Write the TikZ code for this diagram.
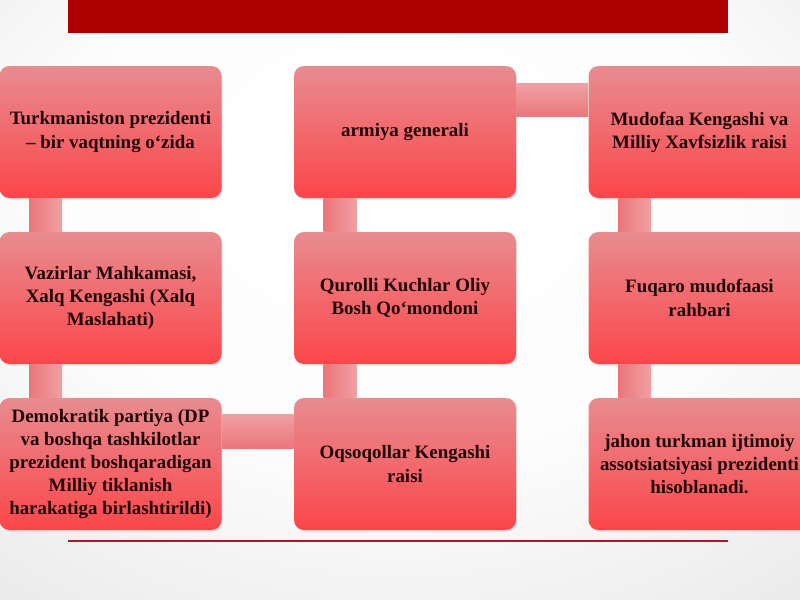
\documentclass[tikz,border=0pt]{standalone}
\usepackage{fontspec}
\setmainfont{Liberation Serif}
\usepackage{tikz}
\usetikzlibrary{shadows,positioning}
\definecolor{barred}{RGB}{172,0,0}
\definecolor{linered}{RGB}{178,20,42}
\definecolor{boxtop}{RGB}{232,140,144}
\definecolor{boxbot}{RGB}{251,70,74}
\definecolor{linklight}{RGB}{240,160,164}
\definecolor{linkdark}{RGB}{234,118,123}
\definecolor{ink}{RGB}{32,4,4}
\pgfdeclareradialshading{slidebg}{\pgfpoint{0bp}{12bp}}{color(0bp)=(white); color(22bp)=(white!98!gray); color(72bp)=(gray!42)}
\tikzstyle{box} = [rectangle,rounded corners=7.5pt,minimum width=166.5pt,minimum height=99pt,inner sep=2pt,top color=boxtop,bottom color=boxbot,align=center,text=ink,font=\bfseries\fontsize{14.2}{17.4}\selectfont,drop shadow={shadow xshift=0.8pt,shadow yshift=-1.2pt,opacity=0.2}]
\tikzstyle{vlink} = [left color=linkdark,right color=linklight]
\tikzstyle{hlink} = [top color=linklight,bottom color=linkdark]

\begin{document}
\begin{tikzpicture}[x=0.75pt,y=-0.75pt]
    \useasboundingbox (0,0) rectangle (800,600);
    \shade[shading=slidebg] (0,0) rectangle (800,600);
    \fill [barred] (68,0) rectangle (728,33);
    \draw [linered,line width=1.6pt] (68,541) -- (728,541);

    \node [box] (pres) at (110.5,132) {Turkmaniston prezidenti\\ – bir vaqtning o‘zida};
    \node [box] (gen) at (405,132) {armiya generali};
    \node [box] (mud) at (699.5,132) {Mudofaa Kengashi va\\ Milliy Xavfsizlik raisi};

    \node [box] (vaz) at (110.5,298) {Vazirlar Mahkamasi,\\ Xalq Kengashi (Xalq\\ Maslahati)};
    \node [box] (qur) at (405,298) {Qurolli Kuchlar Oliy\\ Bosh Qo‘mondoni};
    \node [box] (fuq) at (699.5,298) {Fuqaro mudofaasi\\ rahbari};

    \node [box] (dem) at (110.5,464) {Demokratik partiya (DP\\ va boshqa tashkilotlar\\ prezident boshqaradigan\\ Milliy tiklanish\\ harakatiga birlashtirildi)};
    \node [box] (oqs) at (405,464) {Oqsoqollar Kengashi\\ raisi};
    \node [box] (jah) at (699.5,464) {jahon turkman ijtimoiy\\ assotsiatsiyasi prezidenti\\ hisoblanadi.};

    \foreach \a/\b in {pres/vaz,vaz/dem,gen/qur,qur/oqs,mud/fuq,fuq/jah}
        \shade [vlink] ([shift={(30,0)}]\a.south west) rectangle ([shift={(63,0)}]\b.north west);
    \shade [hlink] ([shift={(0,18)}]gen.north east) rectangle ([shift={(0,51)}]mud.north west);
    \shade [hlink] ([shift={(0,17)}]dem.north east) rectangle ([shift={(0,51)}]oqs.north west);
\end{tikzpicture}
\end{document}
